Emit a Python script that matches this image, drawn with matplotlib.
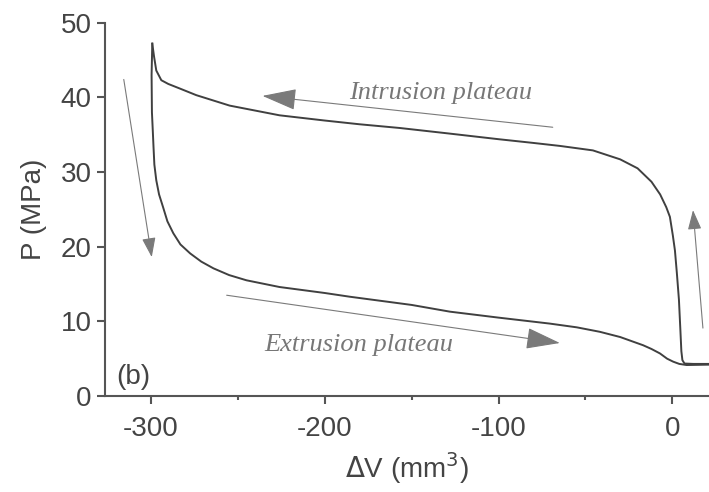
import numpy as np
import matplotlib
matplotlib.use("Agg")
import matplotlib.pyplot as plt
from matplotlib.ticker import MultipleLocator

# intrusion branch (pressure rising, volume going negative)
v_intr = [21, 12, 7, 5.8, 5.2, 4.6, 3.8, 2.6, 1.5, 0.3, -1.4, -3.5, -7, -12, -20, -30,
          -45.7, -64.7, -80, -100, -130, -156.8, -180, -200, -226, -254.7, -273.9,
          -283.5, -290, -294, -296.9, -298.2, -299.2]
p_intr = [4.3, 4.3, 4.35, 4.8, 6.0, 9.0, 12.9, 16.5, 19.5, 21.5, 24.0, 25.3, 27.0, 28.7,
          30.5, 31.7, 32.9, 33.5, 33.9, 34.4, 35.2, 35.9, 36.4, 36.9, 37.6, 38.9, 40.3,
          41.2, 41.8, 42.3, 43.6, 45.5, 47.2]

# extrusion branch (pressure release)
v_extr = [-299.2, -299.6, -299.4, -298.9, -298.5, -298.0, -296.9, -295.3, -293, -290.5,
          -287.1, -283, -277.4, -271, -264, -255, -245, -226, -200, -185.6, -150, -128,
          -100, -70.5, -55, -41.7, -30, -16.8, -12, -7.1, -3, 0.5, 4, 8.2, 21]
p_extr = [47.2, 43.0, 38.0, 35.5, 33.4, 31.0, 28.9, 27.0, 25.3, 23.4,
          21.8, 20.3, 19.1, 18.0, 17.1, 16.2, 15.5, 14.6, 13.8, 13.3, 12.2, 11.3,
          10.5, 9.7, 9.2, 8.6, 7.9, 6.8, 6.3, 5.7, 5.0, 4.6, 4.3, 4.15, 4.2]

plt.rcParams['font.family'] = ['Liberation Sans', 'DejaVu Sans']
plt.rcParams['axes.unicode_minus'] = False

fig = plt.figure(figsize=(7.09, 4.92), dpi=100)
ax = fig.add_axes([0.1481, 0.1951, 0.8519, 0.7587])

dark = '#444444'
ax.plot(v_intr, p_intr, color='#404040', lw=1.4, solid_joinstyle='round')
ax.plot(v_extr, p_extr, color='#404040', lw=1.4, solid_joinstyle='round')

ax.set_xlim(-326.4, 21.1)
ax.set_ylim(0, 50)

for s in ['top', 'right']:
    ax.spines[s].set_visible(False)
for s in ['left', 'bottom']:
    ax.spines[s].set_color('#555555')
    ax.spines[s].set_linewidth(1.5)

ax.xaxis.set_major_locator(MultipleLocator(100))
ax.xaxis.set_minor_locator(MultipleLocator(50))
ax.yaxis.set_major_locator(MultipleLocator(10))
ax.tick_params(axis='both', which='major', length=5.5, width=1.5, color='#555555',
               labelsize=20, labelcolor=dark)
ax.tick_params(axis='x', which='major', pad=9)
ax.tick_params(axis='y', which='major', pad=4)
ax.tick_params(axis='x', which='minor', length=3, width=1.5, color='#555555')

ax.set_xlabel(r'$\Delta$V (mm$^3$)', fontsize=20, color=dark, labelpad=6)
ax.set_ylabel('P (MPa)', fontsize=20, color=dark, labelpad=10)

ax.text(-320, 2.6, '(b)', fontsize=20, color=dark, ha='left', va='center')

serif = dict(family=['Liberation Serif', 'DejaVu Serif'], style='italic',
             fontsize=19, color='#777777')
ax.text(-133, 40.6, 'Intrusion plateau', ha='center', va='center', **serif)
ax.text(-234.6, 6.8, 'Extrusion plateau', ha='left', va='center', **serif)

big = dict(arrowstyle='-|>,head_length=0.8,head_width=0.25', mutation_scale=27,
           color='#7a7a7a', lw=0.8, shrinkA=0, shrinkB=0)
small = dict(arrowstyle='-|>,head_length=0.8,head_width=0.28', mutation_scale=15,
             color='#7a7a7a', lw=0.8, shrinkA=0, shrinkB=0)
ax.annotate('', xy=(-235.8, 40.2), xytext=(-68.8, 36.0), arrowprops=big)
ax.annotate('', xy=(-64.7, 7.1), xytext=(-256.4, 13.5), arrowprops=big)
ax.annotate('', xy=(-299.5, 18.6), xytext=(-315.6, 42.4), arrowprops=small)
ax.annotate('', xy=(11.9, 24.9), xytext=(17.6, 9.1), arrowprops=small)

fig.savefig('out.png', dpi=100)
